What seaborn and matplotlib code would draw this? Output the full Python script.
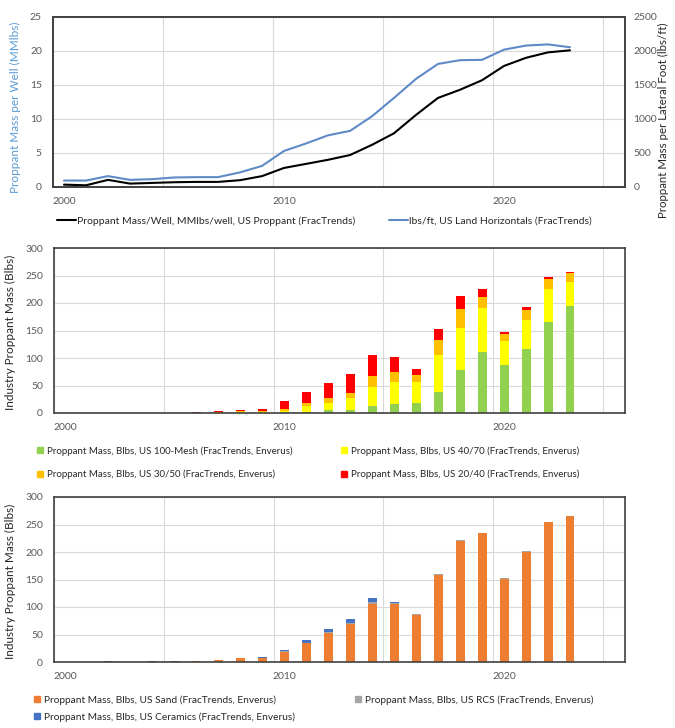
import matplotlib
matplotlib.use("Agg")
import matplotlib.pyplot as plt
from matplotlib.patches import Patch
from matplotlib.lines import Line2D
import seaborn as sns
import numpy as np
import pandas as pd

years = list(range(2000, 2024))

# top chart: proppant per well (MMlbs) and per lateral foot (lbs/ft)
mass_per_well = [0.35, 0.25, 1.05, 0.5, 0.6, 0.7, 0.75, 0.75, 1.0, 1.6, 2.8, 3.4,
                 4.0, 4.7, 6.2, 7.9, 10.6, 13.1, 14.3, 15.7, 17.8, 19.0, 19.8, 20.1]
lbs_per_ft = [95, 95, 160, 105, 115, 140, 145, 145, 215, 310, 530, 640,
              760, 825, 1040, 1310, 1590, 1810, 1865, 1870, 2020, 2080, 2097, 2055]

# middle chart: industry proppant mass by mesh size (Blbs)
mesh_100 = [0, 0, 0, 0, 0, 0, 0, 0, 0.2, 0.3, 1, 2,
            5, 5.5, 13, 16, 19, 39, 78, 111, 87, 116, 166, 194]
us_40_70 = [0, 0, 0, 0, 0, 0, 0, 0.3, 1, 1.5, 3, 11,
            13, 21.5, 35, 40, 37, 66, 77, 80, 44, 54, 59, 44]
us_30_50 = [0, 0, 0, 0, 0, 0, 0.3, 1, 2, 2, 4, 5,
            9, 10, 19, 19, 14, 28, 35, 19.5, 12, 17, 18, 16]
us_20_40 = [0.5, 0.5, 0.6, 0.6, 0.7, 0.8, 1.2, 2, 3, 3.5, 14, 19.5,
            27, 34, 39, 26, 10, 19, 23, 15.5, 4, 6, 4, 3]

# bottom chart: industry proppant mass by type (Blbs)
sand = [0.3, 0.3, 0.5, 0.4, 0.8, 0.8, 1.8, 3, 6.5, 8, 19, 34,
        53, 69, 105.5, 105.5, 86, 159, 220.5, 234, 151.5, 200.5, 254.5, 265.5]
rcs = [0, 0, 0, 0, 0, 0, 0, 0, 0, 0, 0.5, 1,
       1.5, 2.5, 3.5, 2.5, 0.8, 1, 0.6, 1, 1.2, 0.5, 0.5, 0.5]
ceramics = [0.3, 0.5, 1, 0.5, 0.5, 0.5, 0.3, 0.4, 0.6, 0.6, 2.5, 5,
            5.5, 6, 8, 0.5, 0, 0, 0, 0, 0, 0, 0, 0]

BLUE = "#5f8ac7"
TXT = "#595959"

sns.set_style("white")
plt.rcParams["font.family"] = ["Lato", "DejaVu Sans"]

fig = plt.figure(figsize=(6.75, 7.28), dpi=100)
ax1 = fig.add_axes([53 / 675, 1 - 187 / 728, 572 / 675, 170 / 728])
ax2 = fig.add_axes([54 / 675, 1 - 413 / 728, 571 / 675, 165 / 728])
ax3 = fig.add_axes([54 / 675, 1 - 662 / 728, 571 / 675, 165 / 728])


def style_axes(ax, ymax, ystep):
    ax.set_xlim(1999.5, 2025.5)
    ax.set_ylim(0, ymax)
    ax.set_yticks(np.arange(0, ymax + 1, ystep))
    ax.set_xticks([2000, 2010, 2020])
    ax.set_xticklabels(["2000", "2010", "2020"])
    ax.set_xticks(np.arange(1999.5, 2026, 5), minor=True)
    ax.grid(False)
    ax.grid(True, which="minor", axis="x", color="#d9d9d9", lw=0.8)
    ax.grid(True, which="major", axis="y", color="#d9d9d9", lw=0.8)
    ax.tick_params(which="both", length=0, labelsize=7.5, colors=TXT)
    ax.tick_params(axis="x", pad=7)
    ax.tick_params(axis="y", pad=8)
    for s in ax.spines.values():
        s.set_color("#404040")
        s.set_linewidth(1.2)
    ax.set_axisbelow(True)
    ax.set_xlabel("")


# ---- top chart
sns.lineplot(x=years, y=mass_per_well, color="black", lw=1.5, ax=ax1)
style_axes(ax1, 25, 5)
ax1.set_ylabel("Proppant Mass per Well (MMlbs)", color="#5b9bd5", fontsize=8.5)
ax1.yaxis.set_label_coords(-0.056, 0.47)

ax1b = ax1.twinx()
sns.lineplot(x=years, y=lbs_per_ft, color=BLUE, lw=1.5, ax=ax1b)
ax1b.set_ylim(0, 2500)
ax1b.set_yticks(np.arange(0, 2501, 500))
ax1b.tick_params(length=0, labelsize=7.5, colors=TXT, pad=6)
ax1b.set_ylabel("Proppant Mass per Lateral Foot (lbs/ft)", color="#262626",
                fontsize=8.3, rotation=90)
ax1b.yaxis.set_label_coords(1.058, 0.39)
for s in ax1b.spines.values():
    s.set_color("#404040")
    s.set_linewidth(1.2)

top_handles = [Line2D([], [], color="black", lw=1.5), Line2D([], [], color=BLUE, lw=1.5)]
top_labels = ["Proppant Mass/Well, MMlbs/well, US Proppant (FracTrends)",
              "lbs/ft, US Land Horizontals (FracTrends)"]
fig.legend(top_handles, top_labels, loc="upper left",
           bbox_to_anchor=(57 / 675, 1 - 216 / 728), ncol=2, frameon=False,
           fontsize=7.5, labelcolor="#262626", handlelength=1.8,
           handletextpad=0.15, columnspacing=3.2, borderpad=0, borderaxespad=0)

# ---- middle chart (stacked by drawing cumulative totals, top layer first)
mid = pd.DataFrame({"year": years, "100-Mesh": mesh_100, "40/70": us_40_70,
                    "30/50": us_30_50, "20/40": us_20_40})
mid_cols = ["100-Mesh", "40/70", "30/50", "20/40"]
mid_colors = {"100-Mesh": "#92d050", "40/70": "#ffff00",
              "30/50": "#ffc000", "20/40": "#ff0000"}
mid_cum = mid[mid_cols].cumsum(axis=1)
for col in reversed(mid_cols):
    sns.barplot(x=mid["year"], y=mid_cum[col], color=mid_colors[col],
                native_scale=True, width=0.4, saturation=1, linewidth=0,
                errorbar=None, ax=ax2)
style_axes(ax2, 300, 50)
ax2.set_ylabel("Industry Proppant Mass (Blbs)", color="#262626", fontsize=8.5)
ax2.yaxis.set_label_coords(-0.066, 0.49)

mid_order = ["100-Mesh", "30/50", "40/70", "20/40"]
mid_handles = [Patch(color=mid_colors[c]) for c in mid_order]
mid_labels = ["Proppant Mass, Blbs, US %s (FracTrends, Enverus)" % c for c in mid_order]
fig.legend(mid_handles, mid_labels, loc="upper left",
           bbox_to_anchor=(37 / 675, 1 - 446 / 728), ncol=2, frameon=False,
           fontsize=7.0, labelcolor="#262626", handlelength=0.6, handleheight=0.6,
           handletextpad=0.4, columnspacing=5.0, labelspacing=1.45,
           borderpad=0, borderaxespad=0)

# ---- bottom chart
bot = pd.DataFrame({"year": years, "Sand": sand, "RCS": rcs, "Ceramics": ceramics})
bot_cols = ["Sand", "RCS", "Ceramics"]
bot_colors = {"Sand": "#ed7d31", "RCS": "#a5a5a5", "Ceramics": "#4472c4"}
bot_cum = bot[bot_cols].cumsum(axis=1)
for col in reversed(bot_cols):
    sns.barplot(x=bot["year"], y=bot_cum[col], color=bot_colors[col],
                native_scale=True, width=0.4, saturation=1, linewidth=0,
                errorbar=None, ax=ax3)
style_axes(ax3, 300, 50)
ax3.set_ylabel("Industry Proppant Mass (Blbs)", color="#262626", fontsize=8.5)
ax3.yaxis.set_label_coords(-0.066, 0.49)

bot_order = ["Sand", "Ceramics", "RCS"]
bot_handles = [Patch(color=bot_colors[c]) for c in bot_order]
bot_labels = ["Proppant Mass, Blbs, US %s (FracTrends, Enverus)" % c for c in bot_order]
fig.legend(bot_handles, bot_labels, loc="upper left",
           bbox_to_anchor=(34 / 675, 1 - 695 / 728), ncol=2, frameon=False,
           fontsize=7.3, labelcolor="#262626", handlelength=0.6, handleheight=0.6,
           handletextpad=0.4, columnspacing=5.9, labelspacing=0.75,
           borderpad=0, borderaxespad=0)

fig.savefig("out.png", dpi=100)
